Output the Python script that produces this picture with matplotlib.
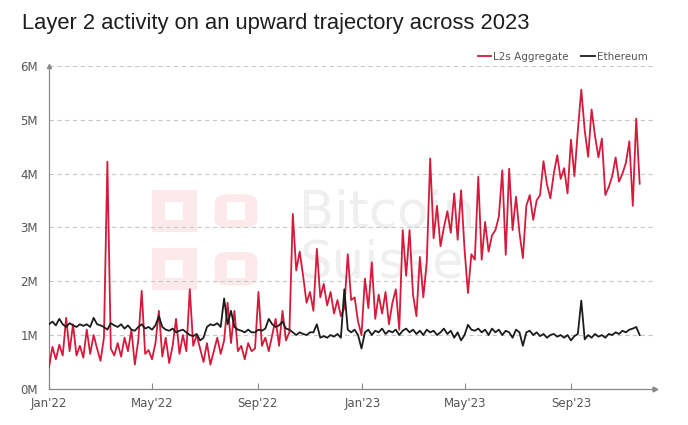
import matplotlib
matplotlib.use("Agg")
import matplotlib.pyplot as plt
import matplotlib.dates as mdates
import matplotlib.patches as mpatches
import pandas as pd

# values in millions, sampled every 4 days from 1 Jan 2022
l2_aggregate = [
    0.40, 0.78, 0.55, 0.82, 0.62, 1.32, 0.70, 1.20, 0.62, 0.80,
    0.58, 1.10, 0.65, 1.00, 0.75, 0.52, 0.95, 4.22, 0.75, 0.62,
    0.85, 0.60, 0.95, 0.70, 1.10, 0.45, 0.90, 1.82, 0.65, 0.72,
    0.55, 0.85, 1.45, 0.60, 0.95, 0.48, 0.80, 1.30, 0.65, 1.00,
    0.70, 1.85, 0.80, 1.00, 0.75, 0.50, 0.85, 0.45, 0.70, 0.95,
    0.65, 0.90, 1.60, 0.85, 1.45, 0.70, 0.80, 0.55, 0.85, 0.70,
    0.75, 1.80, 0.80, 0.95, 0.70, 1.00, 1.30, 0.80, 1.45, 0.90,
    1.05, 3.25, 2.20, 2.55, 2.10, 1.60, 1.80, 1.45, 2.60, 1.70,
    1.95, 1.55, 1.80, 1.40, 1.65, 1.35, 1.50, 2.50, 1.65, 1.70,
    1.25, 1.00, 2.05, 1.50, 2.35, 1.30, 1.75, 1.40, 1.80, 1.20,
    1.60, 1.85, 1.10, 2.95, 2.10, 2.95, 1.75, 1.35, 2.45, 1.70,
    2.35, 4.28, 2.80, 3.40, 2.65, 3.00, 3.30, 2.90, 3.63, 2.77,
    3.69, 2.60, 1.78, 2.50, 2.40, 3.94, 2.40, 3.10, 2.55, 2.85,
    2.95, 3.20, 4.06, 2.49, 4.09, 2.95, 3.57, 2.90, 2.43, 3.40,
    3.60, 3.14, 3.50, 3.60, 4.23, 3.80, 3.54, 4.00, 4.34, 3.90,
    4.10, 3.63, 4.63, 3.95, 4.80, 5.56, 4.80, 4.31, 5.19, 4.70,
    4.30, 4.65, 3.60, 3.75, 3.95, 4.30, 3.85, 4.00, 4.20, 4.60,
    3.40, 5.02, 3.81,
]
ethereum = [
    1.20, 1.25, 1.18, 1.30, 1.20, 1.15, 1.22, 1.18, 1.15, 1.20,
    1.17, 1.20, 1.15, 1.32, 1.20, 1.18, 1.15, 1.10, 1.22, 1.18,
    1.15, 1.20, 1.12, 1.18, 1.10, 1.08, 1.15, 1.20, 1.12, 1.15,
    1.10, 1.18, 1.35, 1.15, 1.10, 1.08, 1.12, 1.05, 1.08, 1.10,
    1.05, 1.00, 0.98, 1.02, 0.90, 0.95, 1.15, 1.20, 1.18, 1.22,
    1.15, 1.68, 1.20, 1.45, 1.15, 1.10, 1.08, 1.05, 1.10, 1.05,
    1.05, 1.10, 1.08, 1.12, 1.30, 1.20, 1.15, 1.18, 1.25, 1.12,
    1.10, 1.05, 1.00, 1.05, 1.02, 1.00, 1.05, 1.05, 1.20, 0.95,
    0.98, 0.95, 1.00, 0.97, 1.02, 0.95, 1.85, 1.10, 1.05, 1.10,
    1.00, 0.75, 1.05, 1.10, 1.00, 1.08, 1.05, 1.12, 1.02, 1.08,
    1.05, 1.10, 1.00, 1.08, 1.12, 1.05, 1.10, 1.02, 1.08, 1.00,
    1.10, 1.05, 1.08, 1.00, 1.05, 1.12, 1.02, 1.08, 0.95, 1.05,
    0.90, 1.00, 1.19, 1.10, 1.08, 1.12, 1.05, 1.10, 1.00, 1.12,
    1.05, 1.10, 1.00, 1.08, 1.05, 0.95, 1.10, 1.05, 0.80, 1.05,
    1.08, 1.00, 1.05, 0.98, 1.02, 0.95, 1.00, 1.02, 0.97, 1.00,
    0.95, 1.00, 0.90, 0.98, 1.02, 1.64, 0.92, 1.00, 0.95, 1.02,
    0.97, 1.00, 0.95, 1.02, 1.00, 1.05, 1.02, 1.08, 1.05, 1.10,
    1.12, 1.15, 1.00,
]
dates = pd.date_range("2022-01-01", periods=len(l2_aggregate), freq="4D")
tick_dates = pd.to_datetime(["2022-01-01", "2022-05-01", "2022-09-01",
                             "2023-01-01", "2023-05-01", "2023-09-01"])
y_ticks = [0, 1, 2, 3, 4, 5, 6]

red = "#d51a3b"
black = "#1c1c1c"
grey = "#8a8a8a"

fig = plt.figure(figsize=(6.88, 4.25), dpi=100)
ax = fig.add_axes([0.0712, 0.085, 0.881, 0.76])

# watermark logo + name
pink = "#fbe9eb"
for y0 in (0.318, 0.454):
    fig.patches.append(mpatches.Rectangle((0.221, y0), 0.066, 0.099, transform=fig.transFigure,
                                          facecolor=pink, edgecolor="none", zorder=0))
    fig.patches.append(mpatches.Rectangle((0.24, y0 + 0.028), 0.026, 0.042,
                                          transform=fig.transFigure,
                                          facecolor="white", edgecolor="none", zorder=0))
    fig.patches.append(mpatches.FancyBboxPatch((0.312, y0 + 0.01), 0.062, 0.079,
                                               boxstyle="round,pad=0,rounding_size=0.02",
                                               transform=fig.transFigure, facecolor=pink,
                                               edgecolor="none", zorder=0))
    fig.patches.append(mpatches.Rectangle((0.33, y0 + 0.028), 0.026, 0.042,
                                          transform=fig.transFigure,
                                          facecolor="white", edgecolor="none", zorder=0))
ax.set_zorder(1)
ax.patch.set_alpha(0)
fig.text(0.435, 0.44, "Bitcoin\nSuisse", fontsize=37, color="#efefef",
         linespacing=1.0, va="center", ha="left", zorder=0)

ax.plot(dates, l2_aggregate, color=red, lw=1.3, label="L2s Aggregate", zorder=3)
ax.plot(dates, ethereum, color=black, lw=1.3, label="Ethereum", zorder=4)

ax.set_ylim(0, 6)
ax.set_xlim(pd.Timestamp("2022-01-01"), pd.Timestamp("2022-01-01") + pd.Timedelta(days=706))
ax.set_yticks(y_ticks)
ax.set_yticklabels([f"{v}M" for v in y_ticks])
ax.set_xticks(tick_dates)
ax.xaxis.set_major_formatter(mdates.DateFormatter("%b'%y"))
ax.yaxis.grid(True, color="#c8c8c8", linestyle=(0, (4, 3)), lw=0.8)
ax.set_axisbelow(True)

for s in ("top", "right"):
    ax.spines[s].set_visible(False)
for s in ("left", "bottom"):
    ax.spines[s].set_color(grey)
    ax.spines[s].set_linewidth(0.9)
ax.tick_params(axis="y", length=0, pad=8, labelsize=8.5, labelcolor="#555555")
ax.tick_params(axis="x", direction="in", length=4, color=grey, pad=6,
               labelsize=8.5, labelcolor="#555555")
ax.plot(1, 0, ">", color=grey, ms=3.5, transform=ax.transAxes, clip_on=False)
ax.plot(0, 1, "^", color=grey, ms=3, transform=ax.transAxes, clip_on=False)

fig.text(0.032, 0.945, "Layer 2 activity on an upward trajectory across 2023",
         fontsize=15.8, color="#1e1e1e", va="center", ha="left",
         family="Liberation Sans")
fig.legend(loc="center right", bbox_to_anchor=(0.955, 0.866), ncol=2, frameon=False,
           fontsize=7.5, handlelength=1.3, handletextpad=0.2, columnspacing=1.2,
           labelcolor="#555555")

fig.savefig("out.png", dpi=100)
